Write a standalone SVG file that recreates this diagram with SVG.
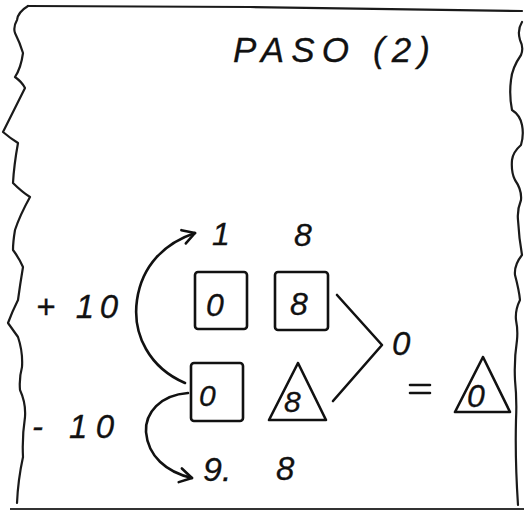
<svg xmlns="http://www.w3.org/2000/svg" width="524" height="512" viewBox="0 0 524 512">
<style>
.ink{fill:none;stroke:#111;stroke-width:2.6;stroke-linecap:round;stroke-linejoin:round}
.edge{fill:none;stroke:#1a1a1a;stroke-width:2.2;stroke-linecap:round;stroke-linejoin:round}
.h{font-family:"Liberation Sans",Arial,sans-serif;font-style:italic;fill:#111;stroke:#111;stroke-width:0.3}
</style>
<defs>
<marker id="arr" viewBox="-14 -9 16 18" markerWidth="16" markerHeight="18" refX="0" refY="0" orient="auto" markerUnits="userSpaceOnUse">
<path d="M-12,-7 L0,0 L-12,7" fill="none" stroke="#111" stroke-width="2.6" stroke-linecap="round" stroke-linejoin="round"/>
</marker>
</defs>
<rect width="524" height="512" fill="#fff"/>
<g id="frame">
<path class="edge" stroke-width="3" d="M28,6 L250,7 L522,11"/>
<path class="edge" d="M28,6 Q18,12 17,20 Q13,27 15,33 Q20,43 23,53 Q21,68 15,77 Q22,82 25,88 Q14,110 3,132 Q10,138 18,143 Q14,165 13,183 Q22,192 30,197 Q20,215 15,230 Q13,242 13,250 Q19,258 23,267 Q20,285 18,300 Q12,312 8,323 Q13,330 18,337 Q23,352 22,367 Q19,378 20,390 Q26,403 25,417 Q22,437 23,457 Q18,480 17,503"/>
<path class="edge" d="M522,22 Q517,30 520,40 Q524,48 521,55 Q512,68 511,80 Q509,95 512,110 Q520,115 522,125 Q524,135 521,145 Q513,152 512,160 Q511,172 515,180 Q522,190 521,200 Q517,210 518,220 Q519,238 522,255 Q514,265 515,275 Q519,290 520,300 Q515,310 516,320 Q518,330 517,340 Q514,360 515,380 Q517,400 516,420 Q515,460 518,505"/>
<path d="M10,509 L524,509" fill="none" stroke="#333" stroke-width="2.2"/>
</g>
<g id="title">
<text class="h" x="233" y="62" font-size="35" textLength="197" lengthAdjust="spacing">PASO (2)</text>
</g>
<g id="label-plus10">
<text class="h" x="36" y="318" font-size="33" textLength="82" lengthAdjust="spacing">+ 10</text>
</g>
<g id="label-minus10">
<text class="h" x="32" y="438" font-size="33" textLength="82" lengthAdjust="spacing">- 10</text>
</g>
<g id="top-1"><text class="h" x="212" y="245" font-size="32">1</text></g>
<g id="top-8"><text class="h" x="294" y="246" font-size="32">8</text></g>
<g id="box-top-0">
<rect class="ink" x="195" y="272" width="52" height="57" rx="3"/>
<text class="h" x="206" y="316" font-size="32">0</text>
</g>
<g id="box-top-8">
<rect class="ink" x="275" y="272" width="53" height="58" rx="3"/>
<text class="h" x="290" y="315" font-size="32">8</text>
</g>
<g id="box-bot-0">
<rect class="ink" x="191" y="363" width="52" height="58" rx="3"/>
<text class="h" x="199" y="406" font-size="30">0</text>
</g>
<g id="tri-8">
<path class="ink" d="M298,363 L269,420 L326,420 Z"/>
<text class="h" x="284" y="412" font-size="30">8</text>
</g>
<g id="sum-0"><text class="h" x="392" y="355" font-size="33">0</text></g>
<g id="equals">
<path class="ink" d="M410,385 L430,385 M410,393 L430,393"/>
</g>
<g id="tri-result">
<path class="ink" d="M483,357 L455,412 L510,412 Z"/>
<text class="h" x="467" y="407" font-size="32">0</text>
</g>
<g id="bot-9"><text class="h" x="203" y="481" font-size="34">9.</text></g>
<g id="bot-8"><text class="h" x="276" y="480" font-size="33">8</text></g>
<g id="connectors">
<path class="ink" d="M185,383 C150,368 132,335 137,300 C142,265 165,243 195,233" marker-end="url(#arr)"/>
<path class="ink" d="M188,393 C160,395 145,413 146,432 C148,456 166,472 192,478" marker-end="url(#arr)"/>
<path class="ink" d="M337,295 L382,345 L333,401"/>
</g>
</svg>
